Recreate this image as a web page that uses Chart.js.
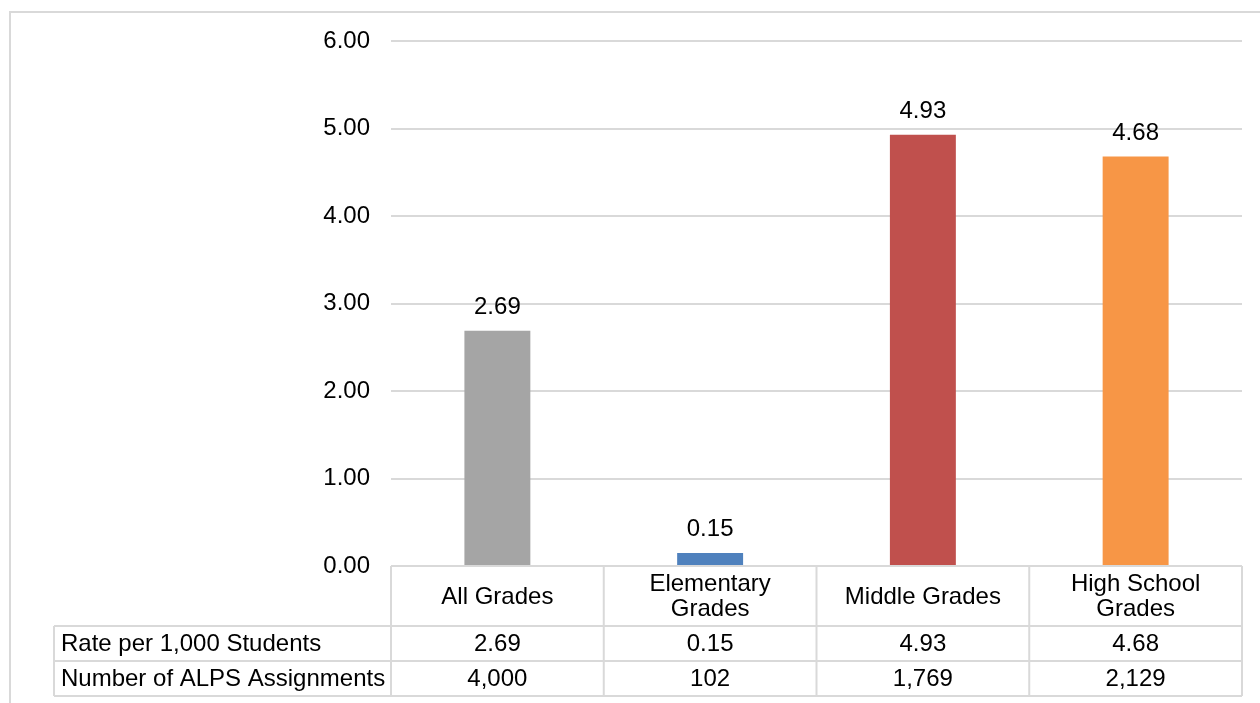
<!DOCTYPE html>
<html>
<head>
<meta charset="utf-8">
<script src="https://cdn.jsdelivr.net/npm/chart.js@4"></script>
<style>
  body { margin: 0; background: #fff; }
  #wrap { width: 1260px; height: 703px; }
</style>
</head>
<body>
<div id="wrap"><canvas id="alps" width="1260" height="703"></canvas></div>
<script>
// data
const categories = [['All Grades'], ['Elementary', 'Grades'], ['Middle Grades'], ['High School', 'Grades']];
const rates = [2.69, 0.15, 4.93, 4.68];
const assignments = [4000, 102, 1769, 2129];
const rowLabels = ['Rate per 1,000 Students', 'Number of ALPS Assignments'];
const yTicks = [0, 1, 2, 3, 4, 5, 6];
const barColors = ['#A5A5A5', '#4F81BD', '#C0504D', '#F79646'];

const FONT = '"Liberation Sans", Arial, sans-serif';
const FSIZE = 24;
const LINE = '#D9D9D9';

// value labels above the bars
const barLabels = {
  id: 'barLabels',
  afterDatasetsDraw(chart) {
    const ctx = chart.ctx;
    ctx.save();
    ctx.font = FSIZE + 'px ' + FONT;
    ctx.fillStyle = '#000';
    ctx.textAlign = 'center';
    ctx.textBaseline = 'alphabetic';
    chart.getDatasetMeta(0).data.forEach((bar, i) => {
      ctx.fillText(rates[i].toFixed(2), bar.x, bar.y - 17);
    });
    ctx.restore();
  }
};

// data table under the plot + outer frame
const dataTable = {
  id: 'dataTable',
  afterDraw(chart) {
    const ctx = chart.ctx;
    const area = chart.chartArea;
    const x = chart.scales.x;
    const colW = (area.right - area.left) / categories.length;
    const top = area.bottom;
    const rows = [top, top + 60, top + 95, top + 130];
    const labelLeft = 54;

    ctx.save();
    ctx.strokeStyle = LINE;
    ctx.lineWidth = 2;

    // frame (cut off at right and bottom like the source)
    ctx.beginPath();
    ctx.moveTo(10, 703);
    ctx.lineTo(10, 12);
    ctx.lineTo(1260, 12);
    ctx.stroke();

    ctx.beginPath();
    // horizontal lines
    ctx.moveTo(area.left, rows[0]); ctx.lineTo(area.right, rows[0]);
    for (let r = 1; r < rows.length; r++) {
      ctx.moveTo(labelLeft, rows[r]); ctx.lineTo(area.right, rows[r]);
    }
    // vertical lines
    ctx.moveTo(labelLeft, rows[1]); ctx.lineTo(labelLeft, rows[3]);
    for (let c = 0; c <= categories.length; c++) {
      const cx = area.left + c * colW;
      ctx.moveTo(cx, rows[0]); ctx.lineTo(cx, rows[3]);
    }
    ctx.stroke();

    ctx.font = FSIZE + 'px ' + FONT;
    ctx.fillStyle = '#000';
    ctx.textBaseline = 'middle';
    ctx.textAlign = 'center';
    categories.forEach((lines, i) => {
      const cx = x.getPixelForValue(i);
      const mid = (rows[0] + rows[1]) / 2 + 1;
      lines.forEach((t, j) => {
        ctx.fillText(t, cx, mid + (j - (lines.length - 1) / 2) * 25);
      });
      ctx.fillText(rates[i].toFixed(2), cx, (rows[1] + rows[2]) / 2 + 1);
      ctx.fillText(assignments[i].toLocaleString('en-US'), cx, (rows[2] + rows[3]) / 2 + 1);
    });
    ctx.textAlign = 'left';
    rowLabels.forEach((t, r) => {
      ctx.fillText(t, labelLeft + 7, (rows[r + 1] + rows[r + 2]) / 2 + 1);
    });
    ctx.restore();
  }
};

new Chart(document.getElementById('alps').getContext('2d'), {
  type: 'bar',
  data: {
    labels: categories,
    datasets: [{
      data: rates,
      backgroundColor: barColors,
      barPercentage: 0.62,
      categoryPercentage: 0.5
    }]
  },
  options: {
    responsive: false,
    animation: false,
    layout: { padding: { left: 0, right: 18, top: 41, bottom: 137 } },
    plugins: { legend: { display: false }, tooltip: { enabled: false } },
    scales: {
      x: { display: false },
      y: {
        min: 0,
        max: 6,
        afterFit: s => { s.width = 391; },
        afterBuildTicks: s => { s.ticks = yTicks.map(v => ({ value: v })); },
        border: { display: false },
        grid: { color: LINE, lineWidth: 2, drawTicks: false },
        ticks: {
          padding: 21,
          color: '#000',
          font: { family: FONT, size: FSIZE },
          callback: v => v.toFixed(2)
        }
      }
    }
  },
  plugins: [barLabels, dataTable]
});
</script>
</body>
</html>
